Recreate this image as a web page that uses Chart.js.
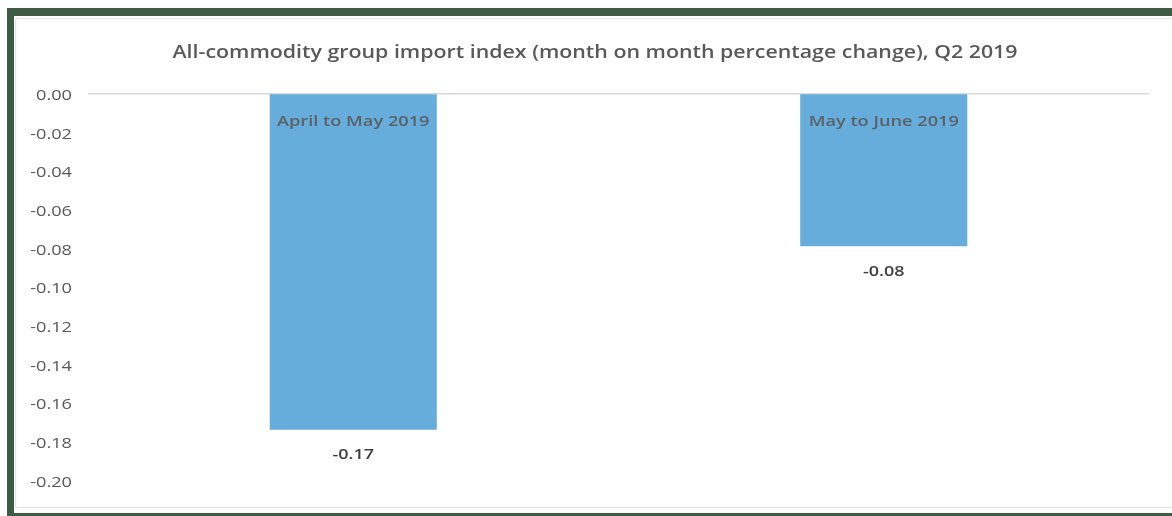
<!DOCTYPE html>
<html>
<head>
<meta charset="utf-8">
<script src="https://cdn.jsdelivr.net/npm/chart.js@4/dist/chart.umd.min.js"></script>
<style>
  html, body { margin: 0; padding: 0; background: #ffffff; }
  #wrap { position: absolute; left: 0; top: 0; width: 1172px; height: 516px; }
</style>
</head>
<body>
<div id="wrap"><canvas id="c" width="1172" height="516"></canvas></div>
<script>
const titleText = "All-commodity group import index (month on month percentage change), Q2 2019";
const categories = ["April to May 2019", "May to June 2019"];
const values = [-0.174, -0.079];
const valueLabels = ["-0.17", "-0.08"];
const yMin = -0.20, yMax = 0.00, yStep = 0.02;

// horizontally stretched text (the reference is wide-set)
function stretchText(ctx, text, x, y, font, color, align, sx) {
  ctx.save();
  ctx.font = font;
  ctx.fillStyle = color;
  ctx.textAlign = align;
  ctx.textBaseline = 'alphabetic';
  ctx.translate(x, y);
  ctx.scale(sx, 1);
  ctx.fillText(text, 0, 0);
  ctx.restore();
}

const frame = {
  id: 'frame',
  beforeDraw(chart) {
    const ctx = chart.ctx;
    ctx.save();
    ctx.fillStyle = '#ffffff';
    ctx.fillRect(0, 0, chart.width, chart.height);
    ctx.fillStyle = '#3e5c45';
    ctx.fillRect(7, 8, chart.width - 7, 8);
    ctx.fillRect(7, 8, 7, chart.height - 8);
    ctx.fillRect(7, 513, chart.width - 7, 3);
    ctx.strokeStyle = '#e6e6e6';
    ctx.lineWidth = 1.5;
    ctx.beginPath();
    ctx.moveTo(15, 18.5); ctx.lineTo(chart.width, 18.5);
    ctx.moveTo(15.5, 18.5); ctx.lineTo(15.5, 508);
    ctx.moveTo(15, 507.5); ctx.lineTo(chart.width, 507.5);
    ctx.stroke();
    ctx.restore();
  },
  afterDraw(chart) {
    const ctx = chart.ctx;
    // title
    const tFont = '600 18px "Open Sans"';
    ctx.save(); ctx.font = tFont;
    const w = ctx.measureText(titleText).width;
    ctx.restore();
    const sx = Math.min(1.35, 845 / w);
    stretchText(ctx, titleText, 595, 58, tFont, '#595959', 'center', sx);
    // y tick labels
    const ys = chart.scales.y;
    ys.ticks.forEach((t) => {
      const v = Math.abs(t.value) < 1e-9 ? 0 : t.value;
      stretchText(ctx, v.toFixed(2), 72, ys.getPixelForValue(t.value) + 6.5,
        '14px "Open Sans"', '#595959', 'right', 1.3);
    });
  }
};

const barLabels = {
  id: 'barLabels',
  afterDatasetsDraw(chart) {
    const ctx = chart.ctx;
    const meta = chart.getDatasetMeta(0);
    meta.data.forEach((bar, i) => {
      stretchText(ctx, chart.data.labels[i], bar.x, bar.base + 31.5,
        '600 14px "Open Sans"', '#5a6168', 'center', 1.3);
      stretchText(ctx, valueLabels[i], bar.x, bar.y + 29.5,
        '600 15px "Open Sans"', '#404040', 'center', 1.2);
    });
  }
};

new Chart(document.getElementById('c'), {
  type: 'bar',
  data: {
    labels: categories,
    datasets: [{
      data: values,
      backgroundColor: '#66addb',
      borderWidth: 0,
      categoryPercentage: 1.0,
      barPercentage: 0.315
    }]
  },
  options: {
    responsive: false,
    animation: false,
    layout: { padding: { left: 0, right: 23, top: 93.5, bottom: 36 } },
    plugins: {
      legend: { display: false },
      tooltip: { enabled: false },
      title: { display: false }
    },
    scales: {
      x: { display: false },
      y: {
        min: yMin, max: yMax,
        afterFit(scale) { scale.width = 88; },
        border: { display: false },
        grid: {
          drawTicks: false,
          color: (c) => (c.tick && Math.abs(c.tick.value) < 1e-9) ? '#d9d9d9' : 'rgba(0,0,0,0)',
          lineWidth: 1.5
        },
        ticks: {
          stepSize: yStep,
          padding: 18,
          color: 'rgba(0,0,0,0)',
          font: { family: 'Open Sans', size: 14 },
          callback: (v) => (Math.abs(v) < 1e-9 ? 0 : v).toFixed(2)
        }
      }
    }
  },
  plugins: [frame, barLabels]
});
</script>
</body>
</html>
